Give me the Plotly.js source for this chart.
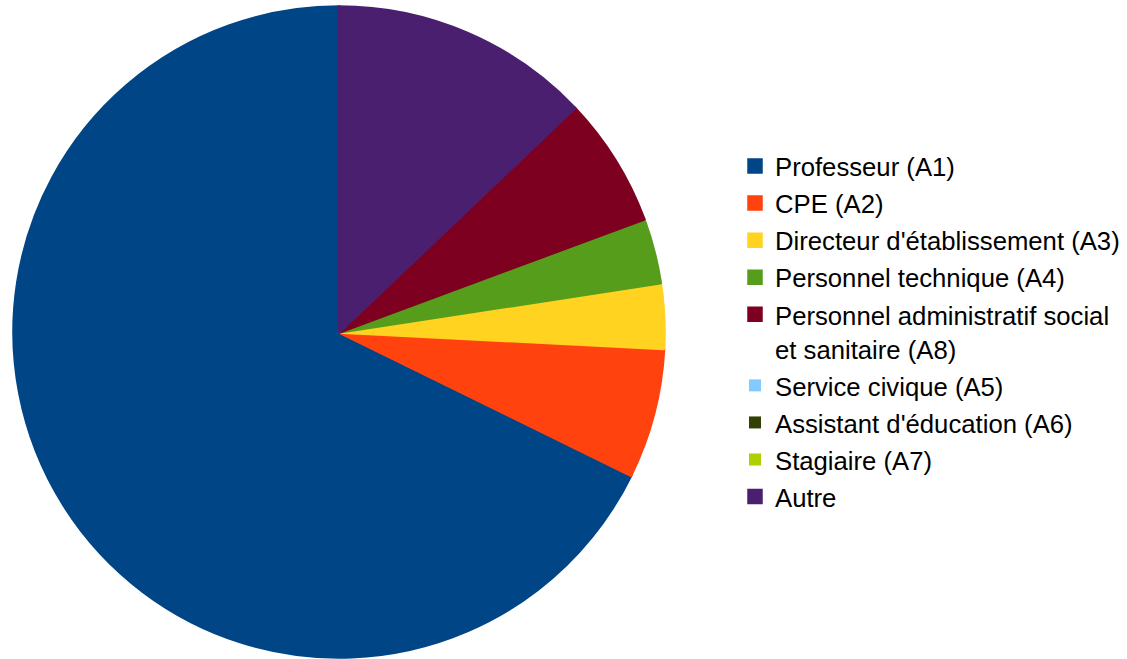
<!DOCTYPE html>
<html>
<head>
<meta charset="utf-8">
<script src="https://cdn.plot.ly/plotly-3.0.1.min.js"></script>
<style>html,body{margin:0;padding:0;background:#fff;}#chart{width:1127px;height:659px;}</style>
</head>
<body>
<div id="chart"></div>
<script>
var categories = [
  "Professeur (A1)",
  "CPE (A2)",
  "Directeur d'établissement (A3)",
  "Personnel technique (A4)",
  "Personnel administratif social<br>et sanitaire (A8)",
  "Service civique (A5)",
  "Assistant d'éducation (A6)",
  "Stagiaire (A7)",
  "Autre"
];
var counts = [21, 2, 1, 1, 2, 0, 0, 0, 4];
var colors = ["#004586", "#ff420e", "#ffd320", "#579d1c", "#7e0021", "#83caff", "#314004", "#aecf00", "#4b1f6f"];

function styled(lbl) {
  return lbl.split("<br>").map(function (p) {
    return "<span style='font-size:25.7px'>" + p + "</span>";
  }).join("<br>");
}

var total = counts.reduce(function (a, b) { return a + b; }, 0);

var trace = {
  type: "pie",
  labels: categories.map(styled),
  values: counts,
  marker: {
    colors: colors,
    line: {
      color: colors,
      width: counts.map(function (v) { return v > 0 ? 3.5 : 0; })
    }
  },
  sort: false,
  direction: "counterclockwise",
  rotation: -counts[0] / total * 360,
  textinfo: "none",
  hoverinfo: "label+value+percent",
  domain: { x: [14 / 1127, 664 / 1127], y: [2 / 659, 652 / 659] }
};

var layout = {
  width: 1127,
  height: 659,
  margin: { l: 0, r: 0, t: 0, b: 0 },
  paper_bgcolor: "#ffffff",
  font: { family: "Liberation Sans, Arial, sans-serif", color: "#000000" },
  showlegend: true,
  legend: {
    x: 735 / 1127,
    xanchor: "left",
    y: 1 - 142.5 / 659,
    yanchor: "top",
    valign: "top",
    font: { size: 26.2, family: "Liberation Sans, Arial, sans-serif", color: "#000000" },
    bgcolor: "rgba(0,0,0,0)"
  }
};

Plotly.newPlot("chart", [trace], layout, { displayModeBar: false, staticPlot: true });
</script>
</body>
</html>
